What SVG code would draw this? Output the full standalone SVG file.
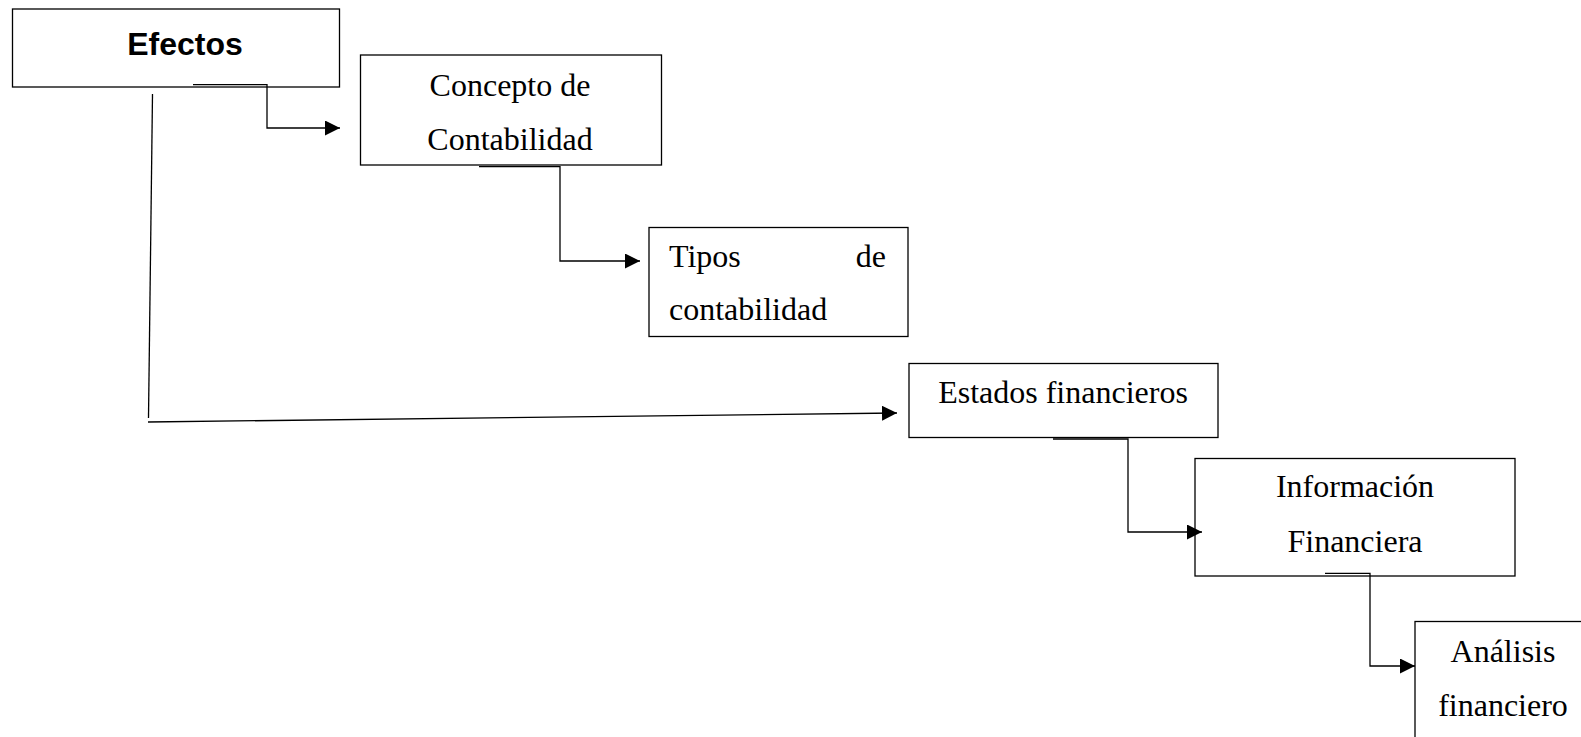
<svg xmlns="http://www.w3.org/2000/svg" width="1581" height="737" viewBox="0 0 1581 737">
<style>
.box{fill:#fff;stroke:#000;stroke-width:1.3}
.t{font-family:"Liberation Serif","Times New Roman",serif;font-size:32px;fill:#000}
.b{font-family:"Liberation Sans",Arial,sans-serif;font-size:32px;font-weight:bold;fill:#000}
.c{fill:none;stroke:#000;stroke-width:1.3}
</style>
<defs>
<marker id="ah" markerUnits="userSpaceOnUse" markerWidth="16" markerHeight="16" refX="15" refY="7.5" orient="auto">
<path d="M0,0 L15,7.5 L0,15 z" fill="#000"/>
</marker>
</defs>
<rect width="1581" height="737" fill="#fff"/>
<g id="efectos">
<rect class="box" x="12.5" y="9" width="327" height="78"/>
<text class="b" x="185" y="55" text-anchor="middle">Efectos</text>
</g>
<g id="concepto">
<rect class="box" x="360.5" y="55" width="301" height="110"/>
<text class="t" x="510" y="96" text-anchor="middle">Concepto de</text>
<text class="t" x="510" y="150" text-anchor="middle">Contabilidad</text>
</g>
<g id="tipos">
<rect class="box" x="649" y="227.5" width="259" height="109"/>
<text class="t" x="669" y="267">Tipos</text>
<text class="t" x="886" y="267" text-anchor="end">de</text>
<text class="t" x="669" y="320">contabilidad</text>
</g>
<g id="estados">
<rect class="box" x="909" y="363.5" width="309" height="74"/>
<text class="t" x="1063" y="403" text-anchor="middle">Estados financieros</text>
</g>
<g id="informacion">
<rect class="box" x="1195" y="458.5" width="320" height="117.5"/>
<text class="t" x="1355" y="497" text-anchor="middle">Información</text>
<text class="t" x="1355" y="552" text-anchor="middle">Financiera</text>
</g>
<g id="analisis">
<rect class="box" x="1415" y="621.5" width="200" height="150"/>
<text class="t" x="1503" y="662" text-anchor="middle">Análisis</text>
<text class="t" x="1503" y="716" text-anchor="middle">financiero</text>
</g>
<g id="connectors">
<path class="c" d="M193,84.7 H267 V128 H340" marker-end="url(#ah)"/>
<path class="c" d="M479,166.7 H560 V261 H640" marker-end="url(#ah)"/>
<path class="c" d="M152.5,94 L148.5,418"/>
<path class="c" d="M148,422 L897,413" marker-end="url(#ah)"/>
<path class="c" d="M1053,439 H1128 V532 H1202" marker-end="url(#ah)"/>
<path class="c" d="M1325,573.3 H1370 V666 H1415" marker-end="url(#ah)"/>
</g>
</svg>
